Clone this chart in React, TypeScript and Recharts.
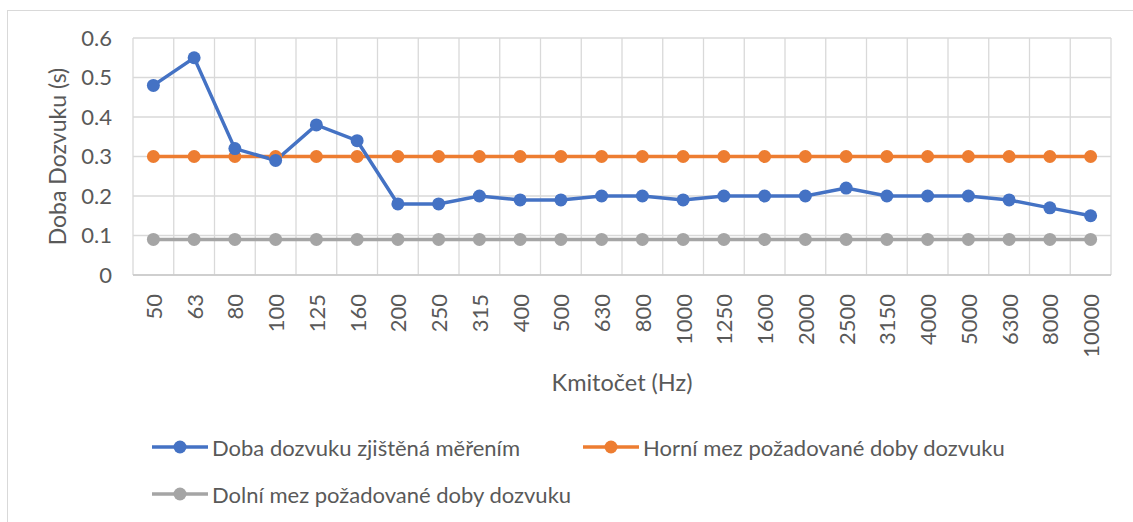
import React from "react";
import { LineChart, Line, XAxis, YAxis, CartesianGrid, Legend } from "recharts";

const frequencies = ["50","63","80","100","125","160","200","250","315","400","500","630","800","1000","1250","1600","2000","2500","3150","4000","5000","6300","8000","10000"];
const measured = [0.48,0.55,0.32,0.29,0.38,0.34,0.18,0.18,0.20,0.19,0.19,0.20,0.20,0.19,0.20,0.20,0.20,0.22,0.20,0.20,0.20,0.19,0.17,0.15];
const upper = frequencies.map(() => 0.3);
const lower = frequencies.map(() => 0.09);
const yTicks = [0, 0.1, 0.2, 0.3, 0.4, 0.5, 0.6];
const seriesNames = ["Doba dozvuku zjištěná měřením", "Horní mez požadované doby dozvuku", "Dolní mez požadované doby dozvuku"];
const seriesColors = ["#4472C4", "#ED7D31", "#A5A5A5"];

const data = frequencies.map((f, i) => ({ idx: i, f, measured: measured[i], upper: upper[i], lower: lower[i] }));
const catTicks = frequencies.map((_, i) => i);
const gridTicks = [...frequencies.map((_, i) => i - 0.5), frequencies.length - 0.5];

const FONT = "Lato, 'Open Sans', sans-serif";
const TXT = "#595959";

const XTick = (props: any) => {
  const { x, y, payload } = props;
  return (
    <text transform={`translate(${x},${y + 11}) rotate(-90)`} textAnchor="end" dominantBaseline="central" fill={TXT} fontSize={22} fontFamily={FONT}>
      {frequencies[payload.value]}
    </text>
  );
};

const LegendContent = () => {
  const items = seriesNames.map((n, i) => ({ n, c: seriesColors[i] }));
  const cols = [152, 583];
  return (
    <div style={{ position: "relative", width: 1133, height: 85 }}>
      {items.map((it, i) => (
        <div key={i} style={{ position: "absolute", left: cols[i % 2], top: 7 + Math.floor(i / 2) * 47, display: "flex", alignItems: "center", height: 30 }}>
          <svg width={58} height={20}>
            <line x1={0} y1={10} x2={56} y2={10} stroke={it.c} strokeWidth={3.5} />
            <circle cx={28} cy={10} r={6.5} fill={it.c} />
          </svg>
          <span style={{ fontFamily: FONT, fontSize: 22, color: TXT, marginLeft: 2, whiteSpace: "nowrap" }}>{it.n}</span>
        </div>
      ))}
    </div>
  );
};

export default function App() {
  return (
    <div style={{ position: "absolute", left: 0, top: 0, width: 1133, height: 522, background: "#fff", overflow: "hidden" }}>
      <div style={{ position: "absolute", left: 7, top: 10, width: 1135, height: 530, border: "1px solid #d9d9d9", boxSizing: "border-box" }} />
      <LineChart width={1133} height={522} data={data} margin={{ top: 38, right: 22, left: 0, bottom: 12 }} style={{ position: "absolute", left: 0, top: 0 }}>
        <CartesianGrid xAxisId="g" stroke="#d9d9d9" strokeWidth={1.3} />
        <XAxis xAxisId="g" type="number" dataKey="idx" domain={[-0.5, frequencies.length - 0.5]} ticks={gridTicks} hide />
        <XAxis
          type="number"
          dataKey="idx"
          domain={[-0.5, frequencies.length - 0.5]}
          ticks={catTicks}
          interval={0}
          tick={<XTick />}
          tickLine={false}
          axisLine={{ stroke: "#c8c8c8", strokeWidth: 1.5 }}
          height={150}
          label={{ value: "Kmitočet (Hz)", position: "insideBottom", offset: 34, fill: TXT, fontSize: 23.5, fontFamily: FONT }}
        />
        <YAxis
          domain={[0, 0.6]}
          ticks={yTicks}
          width={133}
          tickLine={false}
          axisLine={false}
          tickMargin={15}
          tick={{ fill: TXT, fontSize: 22, fontFamily: FONT }}
          label={{ value: "Doba Dozvuku (s)", angle: -90, position: "insideLeft", offset: 58, fill: TXT, fontSize: 23, fontFamily: FONT, style: { textAnchor: "middle" } }}
        />
        <Line dataKey="lower" name={seriesNames[2]} stroke={seriesColors[2]} strokeWidth={3.5} dot={{ r: 6.5, fill: seriesColors[2], stroke: seriesColors[2], strokeWidth: 0 }} isAnimationActive={false} />
        <Line dataKey="upper" name={seriesNames[1]} stroke={seriesColors[1]} strokeWidth={3.5} dot={{ r: 6.5, fill: seriesColors[1], stroke: seriesColors[1], strokeWidth: 0 }} isAnimationActive={false} />
        <Line dataKey="measured" name={seriesNames[0]} stroke={seriesColors[0]} strokeWidth={3.5} dot={{ r: 6.5, fill: seriesColors[0], stroke: seriesColors[0], strokeWidth: 0 }} isAnimationActive={false} />
        <Legend verticalAlign="bottom" content={<LegendContent />} wrapperStyle={{ left: 0, width: 1133, height: 85 }} />
      </LineChart>
    </div>
  );
}
